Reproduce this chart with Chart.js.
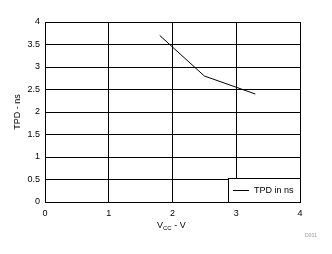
<!DOCTYPE html>
<html>
<head>
<meta charset="utf-8">
<script src="https://cdn.jsdelivr.net/npm/chart.js@4"></script>
<style>
  html, body { margin: 0; padding: 0; background: #fff; }
  #wrap { width: 332px; height: 254px; }
</style>
</head>
<body>
<div id="wrap"><canvas id="myChart" width="332" height="254"></canvas></div>
<script>
const ctx = document.getElementById('myChart');

// values
const vcc = [1.8, 2.5, 3.3];
const tpd = [3.7, 2.8, 2.4];
const seriesName = 'TPD in ns';
const xTicks = [0, 1, 2, 3, 4];
const yTicks = [0, 0.5, 1, 1.5, 2, 2.5, 3, 3.5, 4];

const font = 'Liberation Sans, Arial, sans-serif';

// legend box, axis titles and the little tag
const extras = {
    id: 'extras',
    afterDraw(chart) {
        const c = chart.ctx;
        const a = chart.chartArea;
        c.save();
        // legend inside bottom right
        const w = 72, h = 24;
        const lx = a.right - w, ly = a.bottom - h;
        c.fillStyle = '#fff';
        c.fillRect(lx, ly, w, h);
        c.strokeStyle = '#000';
        c.lineWidth = 1;
        c.strokeRect(lx + 0.5, ly + 0.5, w, h);
        c.beginPath();
        c.moveTo(lx + 5, ly + 12.5);
        c.lineTo(lx + 21, ly + 12.5);
        c.stroke();
        c.fillStyle = '#000';
        c.font = '9px ' + font;
        c.textBaseline = 'middle';
        c.textAlign = 'left';
        c.fillText(seriesName, lx + 26, ly + 12.5);

        // y title
        c.save();
        c.translate(18, (a.top + a.bottom) / 2);
        c.rotate(-Math.PI / 2);
        c.textAlign = 'center';
        c.textBaseline = 'middle';
        c.fillText('TPD - ns', 0, 0);
        c.restore();

        // x title with subscript
        c.textBaseline = 'alphabetic';
        c.textAlign = 'left';
        let x = 157;
        const base = 228;
        c.font = '9px ' + font;
        c.fillText('V', x, base);
        x += c.measureText('V').width;
        c.font = '6px ' + font;
        c.fillText('CC', x, base + 2);
        x += c.measureText('CC').width;
        c.font = '9px ' + font;
        c.fillText(' - V', x, base);

        // tag
        c.fillStyle = '#999';
        c.font = '5px ' + font;
        c.fillText('D001', 305, 237);
        c.restore();
    }
};

new Chart(ctx, {
    type: 'scatter',
    data: {
        datasets: [{
            label: seriesName,
            data: vcc.map((v, i) => ({ x: v, y: tpd[i] })),
            showLine: true,
            borderColor: '#000',
            borderWidth: 1,
            pointRadius: 0,
            fill: false
        }]
    },
    options: {
        responsive: false,
        animation: false,
        layout: { padding: { top: 22, right: 32, left: 0, bottom: 0 } },
        plugins: {
            legend: { display: false },
            tooltip: { enabled: false }
        },
        scales: {
            x: {
                type: 'linear',
                min: 0, max: 4,
                afterBuildTicks: s => { s.ticks = xTicks.map(v => ({ value: v })); },
                afterFit: s => { s.height = 52; },
                grid: { color: '#000', lineWidth: 1, drawTicks: false },
                border: { color: '#000', width: 1 },
                ticks: { color: '#000', font: { size: 9, family: font }, padding: 6, maxRotation: 0,
                    callback: v => String(v) }
            },
            y: {
                type: 'linear',
                min: 0, max: 4,
                afterBuildTicks: s => { s.ticks = yTicks.map(v => ({ value: v })); },
                afterFit: s => { s.width = 45; },
                grid: { color: '#000', lineWidth: 1, drawTicks: false },
                border: { color: '#000', width: 1 },
                ticks: { color: '#000', font: { size: 9, family: font }, padding: 5,
                    callback: v => String(v) }
            }
        }
    },
    plugins: [extras]
});
</script>
</body>
</html>
